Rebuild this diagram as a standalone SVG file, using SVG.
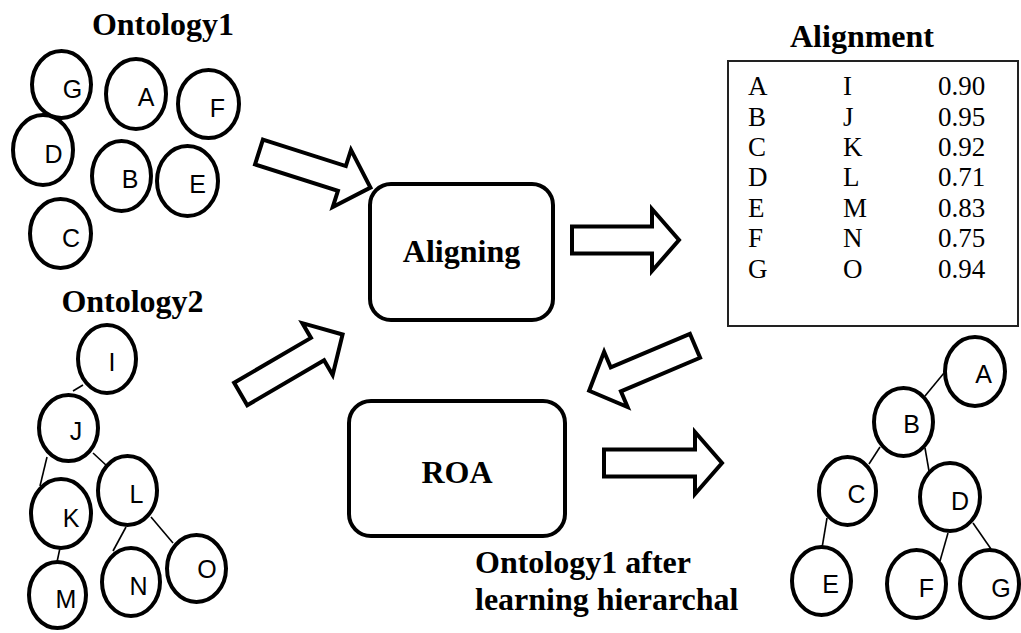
<svg xmlns="http://www.w3.org/2000/svg" width="1021" height="633" viewBox="0 0 1021 633">
  <style>
    .node ellipse { fill: #ffffff; stroke: #000000; stroke-width: 4; }
    .lbl { font-family: "Liberation Sans", Arial, sans-serif; font-size: 25px; fill: #000000; text-anchor: middle; }
    .title { font-family: "Liberation Serif", "Times New Roman", serif; font-size: 32px; font-weight: bold; fill: #000000; }
    .cell { font-family: "Liberation Serif", "Times New Roman", serif; font-size: 27px; fill: #000000; }
    .box rect { fill: #ffffff; stroke: #000000; stroke-width: 4; }
    .edge { stroke: #000000; stroke-width: 1.6; fill: none; }
    .arrow { fill: #ffffff; stroke: #000000; stroke-width: 4; stroke-linejoin: miter; stroke-miterlimit: 10; }
  </style>

  <!-- titles -->
  <text class="title" x="163" y="35" text-anchor="middle">Ontology1</text>
  <text class="title" x="132.5" y="312" text-anchor="middle">Ontology2</text>
  <text class="title" x="862" y="47" text-anchor="middle">Alignment</text>
  <text class="title" x="475" y="573">Ontology1 after</text>
  <text class="title" x="475" y="610">learning hierarchal</text>

  <!-- tree edges -->
  <g id="connectors">
    <line class="edge" x1="83" y1="385" x2="73" y2="391"/>
    <line class="edge" x1="47" y1="457" x2="40" y2="486"/>
    <line class="edge" x1="93" y1="453" x2="107" y2="466"/>
    <line class="edge" x1="60" y1="548" x2="57" y2="562"/>
    <line class="edge" x1="126" y1="527" x2="113" y2="551"/>
    <line class="edge" x1="151" y1="517" x2="173" y2="543"/>
    <line class="edge" x1="944" y1="373" x2="925" y2="396"/>
    <line class="edge" x1="880" y1="447" x2="869" y2="464"/>
    <line class="edge" x1="925" y1="448" x2="929" y2="471"/>
    <line class="edge" x1="827" y1="518" x2="822" y2="548"/>
    <line class="edge" x1="948" y1="533" x2="940" y2="561"/>
    <line class="edge" x1="973" y1="523" x2="991" y2="549"/>
  </g>

  <!-- block arrows -->
  <g id="block-arrows">
    <path class="arrow" transform="translate(259,152) rotate(17.7)" d="M0,-13 H87 V-30 L117,0 L87,30 V13 H0 Z"/>
    <path class="arrow" transform="translate(240.7,394) rotate(-30.3)" d="M0,-13 H89 V-30 L118,0 L89,30 V13 H0 Z"/>
    <path class="arrow" transform="translate(572,240) rotate(0)" d="M0,-13.5 H80 V-31 L107,0 L80,31 V13.5 H0 Z"/>
    <path class="arrow" transform="translate(695,345.8) rotate(157)" d="M0,-13 H86 V-30 L115,0 L86,30 V13 H0 Z"/>
    <path class="arrow" transform="translate(604,463) rotate(0)" d="M0,-13.5 H91 V-31 L118,0 L91,31 V13.5 H0 Z"/>
  </g>

  <!-- process boxes -->
  <g id="aligning" class="box">
    <rect x="370" y="184" width="183" height="136" rx="21" ry="21"/>
    <text class="title" x="461.5" y="262" text-anchor="middle">Aligning</text>
  </g>
  <g id="roa" class="box">
    <rect x="349" y="401" width="216" height="135" rx="22" ry="22"/>
    <text class="title" x="457" y="483" text-anchor="middle">ROA</text>
  </g>

  <!-- alignment table -->
  <g id="alignment">
    <rect x="728" y="61" width="290" height="265" fill="#ffffff" stroke="#222222" stroke-width="2"/>
    <g class="cell">
      <text x="748" y="95">A</text><text x="843" y="95">I</text><text x="938" y="95">0.90</text>
      <text x="748" y="125.5">B</text><text x="843" y="125.5">J</text><text x="938" y="125.5">0.95</text>
      <text x="748" y="156">C</text><text x="843" y="156">K</text><text x="938" y="156">0.92</text>
      <text x="748" y="186">D</text><text x="843" y="186">L</text><text x="938" y="186">0.71</text>
      <text x="748" y="216.5">E</text><text x="843" y="216.5">M</text><text x="938" y="216.5">0.83</text>
      <text x="748" y="247">F</text><text x="843" y="247">N</text><text x="938" y="247">0.75</text>
      <text x="748" y="277.5">G</text><text x="843" y="277.5">O</text><text x="938" y="277.5">0.94</text>
    </g>
  </g>

  <!-- Ontology1 concepts -->
  <g id="o1-G" class="node"><ellipse cx="61.5" cy="84.5" rx="29.5" ry="33.5"/><text class="lbl" x="72.5" y="98">G</text></g>
  <g id="o1-A" class="node"><ellipse cx="136" cy="94" rx="30" ry="35"/><text class="lbl" x="146" y="106">A</text></g>
  <g id="o1-F" class="node"><ellipse cx="208.5" cy="104" rx="30.5" ry="34"/><text class="lbl" x="217.5" y="117">F</text></g>
  <g id="o1-D" class="node"><ellipse cx="43" cy="150" rx="30" ry="35"/><text class="lbl" x="53.5" y="163">D</text></g>
  <g id="o1-B" class="node"><ellipse cx="121.5" cy="176" rx="29.5" ry="35"/><text class="lbl" x="130" y="188">B</text></g>
  <g id="o1-E" class="node"><ellipse cx="187.5" cy="181" rx="30.5" ry="35"/><text class="lbl" x="197.5" y="193">E</text></g>
  <g id="o1-C" class="node"><ellipse cx="60.5" cy="233.5" rx="30.5" ry="34.5"/><text class="lbl" x="71" y="247">C</text></g>

  <!-- Ontology2 concepts -->
  <g id="o2-I" class="node"><ellipse cx="107" cy="359" rx="29" ry="34"/><text class="lbl" x="112" y="371">I</text></g>
  <g id="o2-J" class="node"><ellipse cx="68.5" cy="428" rx="29.5" ry="33"/><text class="lbl" x="76" y="440">J</text></g>
  <g id="o2-L" class="node"><ellipse cx="127.5" cy="490.5" rx="29.5" ry="34.5"/><text class="lbl" x="136.5" y="503">L</text></g>
  <g id="o2-K" class="node"><ellipse cx="61" cy="513.5" rx="30" ry="34.5"/><text class="lbl" x="71" y="527">K</text></g>
  <g id="o2-M" class="node"><ellipse cx="57.5" cy="595" rx="28.5" ry="33"/><text class="lbl" x="66" y="608">M</text></g>
  <g id="o2-N" class="node"><ellipse cx="131" cy="582" rx="29" ry="34"/><text class="lbl" x="138.5" y="595">N</text></g>
  <g id="o2-O" class="node"><ellipse cx="196.5" cy="568.5" rx="29.5" ry="33.5"/><text class="lbl" x="207" y="578">O</text></g>

  <!-- Ontology1 after learning the hierarchy -->
  <g id="h-A" class="node"><ellipse cx="975" cy="371.5" rx="30" ry="34.5"/><text class="lbl" x="983.5" y="383">A</text></g>
  <g id="h-B" class="node"><ellipse cx="903.5" cy="422" rx="29.5" ry="34"/><text class="lbl" x="911.5" y="433">B</text></g>
  <g id="h-C" class="node"><ellipse cx="847.5" cy="491" rx="28.5" ry="34"/><text class="lbl" x="856.5" y="503">C</text></g>
  <g id="h-D" class="node"><ellipse cx="950" cy="497" rx="30" ry="34"/><text class="lbl" x="960" y="510">D</text></g>
  <g id="h-E" class="node"><ellipse cx="821.5" cy="581" rx="29.5" ry="34"/><text class="lbl" x="830.5" y="593">E</text></g>
  <g id="h-F" class="node"><ellipse cx="916.5" cy="584" rx="29.5" ry="34"/><text class="lbl" x="926.5" y="597">F</text></g>
  <g id="h-G" class="node"><ellipse cx="989.5" cy="584" rx="29.5" ry="34"/><text class="lbl" x="1001" y="597">G</text></g>
</svg>
